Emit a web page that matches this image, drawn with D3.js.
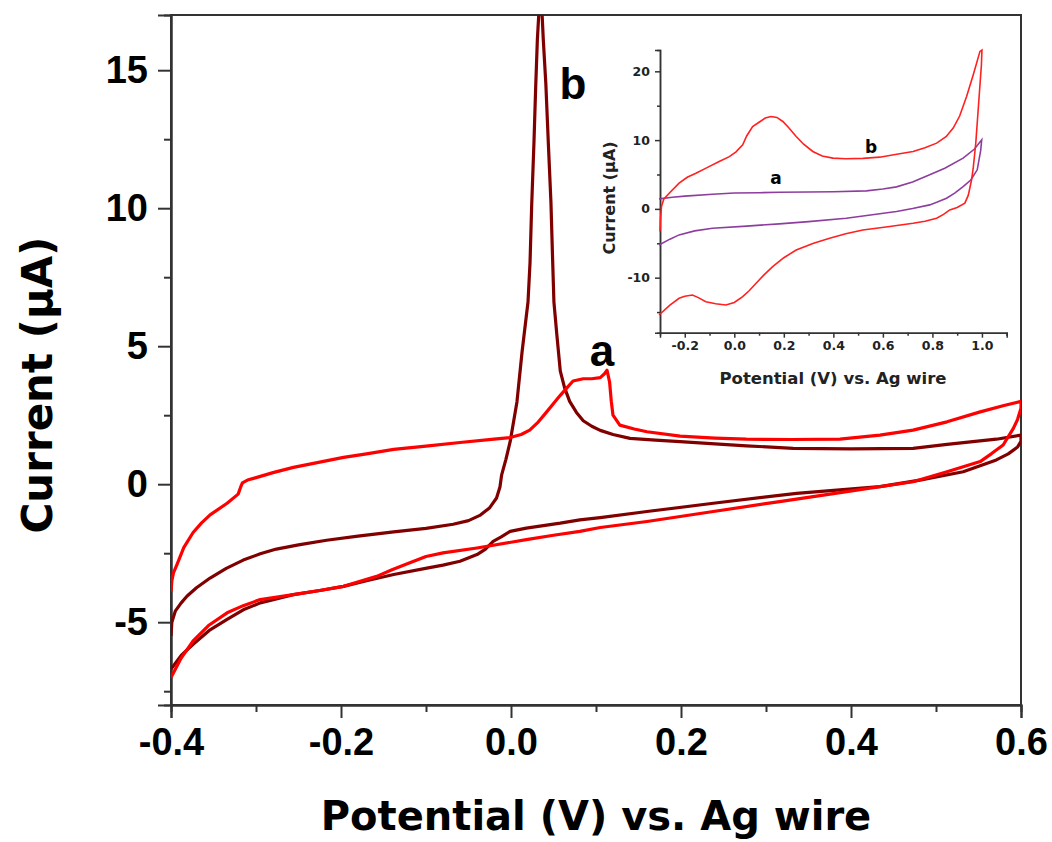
<!DOCTYPE html>
<html>
<head>
<meta charset="utf-8">
<script src="https://cdn.jsdelivr.net/npm/d3@7"></script>
<style>
  html, body { margin: 0; padding: 0; background: #fff; }
  svg { display: block; }
</style>
</head>
<body>
<svg id="chart" width="1052" height="842"></svg>
<script>
// ---------------- DATA ----------------
// Main chart: potential (V) vs current (µA)
const mainXTicks = [-0.4, -0.2, 0.0, 0.2, 0.4, 0.6];
const mainYTicks = [-5, 0, 5, 10, 15];
const mainXLabel = "Potential (V) vs. Ag wire";
const mainYLabel = "Current (\u03bcA)";

// curve b (dark red) – forward then reverse scan
const curveB = [
  [-0.400,-5.5],[-0.399,-5.0],[-0.395,-4.6],[-0.388,-4.3],[-0.381,-4.05],[-0.370,-3.75],[-0.354,-3.40],
  [-0.335,-3.05],[-0.315,-2.75],[-0.295,-2.52],[-0.276,-2.35],[-0.250,-2.20],[-0.217,-2.03],[-0.180,-1.88],
  [-0.138,-1.73],[-0.100,-1.60],[-0.068,-1.45],[-0.050,-1.32],[-0.036,-1.12],[-0.025,-0.85],[-0.017,-0.50],
  [-0.013,-0.10],[-0.011,0.34],[-0.006,0.90],[-0.001,1.54],[0.007,2.98],[0.013,4.79],[0.020,6.60],
  [0.0224,8.04],[0.0243,10.08],[0.027,12.37],[0.029,14.35],[0.031,16.10],[0.033,17.20],[0.036,17.40],
  [0.038,16.10],[0.041,14.50],[0.044,12.30],[0.047,10.20],[0.049,8.10],[0.0505,6.60],[0.054,5.39],
  [0.058,4.10],[0.063,3.50],[0.069,3.00],[0.077,2.60],[0.085,2.30],[0.095,2.10],[0.105,1.95],[0.120,1.80],
  [0.140,1.66],[0.170,1.60],[0.199,1.54],[0.240,1.46],[0.277,1.39],[0.332,1.30],[0.400,1.28],[0.473,1.30],
  [0.513,1.44],[0.571,1.63],[0.600,1.78],
  [0.600,1.55],[0.596,1.35],[0.585,1.10],[0.571,0.88],[0.532,0.45],[0.481,0.15],[0.434,-0.09],[0.336,-0.33],
  [0.238,-0.69],[0.160,-0.99],[0.105,-1.21],[0.081,-1.29],[0.058,-1.41],[0.018,-1.59],[-0.001,-1.71],
  [-0.011,-1.90],[-0.021,-2.07],[-0.030,-2.35],[-0.040,-2.55],[-0.060,-2.79],[-0.080,-2.93],[-0.099,-3.04],
  [-0.138,-3.27],[-0.170,-3.50],[-0.197,-3.70],[-0.225,-3.85],[-0.256,-4.00],[-0.295,-4.30],[-0.315,-4.55],
  [-0.334,-4.90],[-0.355,-5.30],[-0.374,-5.80],[-0.388,-6.20],[-0.397,-6.58],[-0.400,-6.70]
];

// curve a (bright red) – forward then reverse scan
const curveA = [
  [-0.400,-3.9],[-0.399,-3.5],[-0.397,-3.2],[-0.393,-2.91],[-0.385,-2.30],[-0.374,-1.75],[-0.364,-1.40],
  [-0.354,-1.11],[-0.334,-0.69],[-0.321,-0.36],[-0.318,-0.10],[-0.316,0.05],[-0.310,0.15],[-0.303,0.21],
  [-0.280,0.42],[-0.256,0.61],[-0.225,0.80],[-0.197,0.97],[-0.170,1.10],[-0.138,1.26],[-0.100,1.38],
  [-0.060,1.51],[-0.020,1.63],[-0.001,1.69],[0.012,1.80],[0.022,1.96],[0.032,2.25],[0.042,2.62],[0.050,2.92],
  [0.058,3.22],[0.066,3.50],[0.073,3.74],[0.085,3.82],[0.095,3.82],[0.105,3.86],[0.110,4.00],[0.113,4.13],
  [0.116,3.70],[0.118,3.00],[0.120,2.50],[0.128,2.14],[0.145,2.00],[0.160,1.90],[0.199,1.74],[0.240,1.67],
  [0.277,1.63],[0.330,1.62],[0.387,1.63],[0.434,1.78],[0.473,1.96],[0.513,2.26],[0.552,2.62],[0.580,2.85],
  [0.600,3.00],
  [0.600,2.75],[0.596,2.35],[0.591,2.02],[0.579,1.42],[0.565,1.10],[0.552,0.82],[0.513,0.45],[0.473,0.09],
  [0.395,-0.27],[0.316,-0.63],[0.238,-0.99],[0.160,-1.35],[0.105,-1.57],[0.081,-1.71],[0.050,-1.85],
  [0.018,-2.01],[-0.040,-2.31],[-0.080,-2.49],[-0.100,-2.62],[-0.119,-2.85],[-0.140,-3.10],[-0.158,-3.34],
  [-0.197,-3.70],[-0.225,-3.85],[-0.256,-4.00],[-0.295,-4.18],[-0.315,-4.40],[-0.334,-4.66],[-0.355,-5.10],
  [-0.374,-5.68],[-0.388,-6.30],[-0.400,-7.00]
];

// Inset chart
const insetXTicks = [-0.2, 0.0, 0.2, 0.4, 0.6, 0.8, 1.0];
const insetYTicks = [-10, 0, 10, 20];
const insetXLabel = "Potential (V) vs. Ag wire";
const insetYLabel = "Current (\u03bcA)";

// inset curve b (red)
const insetB = [
  [-0.300,-3.3],[-0.298,-1.5],[-0.294,0.34],[-0.285,1.4],[-0.263,2.28],[-0.223,3.74],[-0.190,4.6],
  [-0.155,5.19],[-0.110,6.0],[-0.061,6.89],[-0.020,7.6],[0.007,8.3],[0.034,9.32],[0.050,10.6],[0.074,11.98],
  [0.100,12.6],[0.125,13.2],[0.148,13.44],[0.172,13.3],[0.196,12.71],[0.220,11.8],[0.250,10.53],[0.280,9.4],
  [0.317,8.35],[0.355,7.7],[0.398,7.38],[0.450,7.3],[0.520,7.35],[0.587,7.52],[0.650,7.9],[0.722,8.35],
  [0.770,8.9],[0.817,9.56],[0.855,10.5],[0.884,11.74],[0.910,13.5],[0.938,16.35],[0.965,19.5],[0.992,22.9],
  [1.000,23.1],
  [0.998,21.0],[0.990,17.0],[0.982,13.0],[0.975,9.5],[0.965,6.0],[0.958,4.2],[0.945,2.0],[0.931,0.83],
  [0.900,0.2],[0.870,-0.15],[0.845,-0.8],[0.817,-1.36],[0.770,-1.8],[0.722,-2.09],[0.620,-2.6],[0.519,-3.06],
  [0.450,-3.6],[0.385,-4.27],[0.320,-5.0],[0.250,-5.97],[0.200,-7.1],[0.155,-8.4],[0.120,-9.6],[0.088,-10.8],
  [0.060,-11.9],[0.034,-12.76],[0.000,-13.6],[-0.034,-13.97],[-0.075,-13.8],[-0.115,-13.49],[-0.145,-12.9],
  [-0.169,-12.52],[-0.200,-12.7],[-0.223,-13.0],[-0.260,-14.0],[-0.304,-15.43]
];

// inset curve a (purple)
const insetA = [
  [-0.304,1.45],[-0.250,1.7],[-0.200,1.85],[-0.088,2.13],[0.000,2.3],[0.100,2.35],[0.182,2.43],[0.300,2.45],
  [0.400,2.5],[0.533,2.62],[0.600,2.9],[0.655,3.2],[0.720,3.9],[0.789,4.95],[0.850,5.9],[0.924,7.38],
  [0.970,8.7],[0.999,10.04],
  [0.995,8.5],[0.981,5.68],[0.955,4.2],[0.924,3.25],[0.890,2.3],[0.857,1.55],[0.820,1.0],[0.789,0.58],
  [0.720,0.05],[0.655,-0.39],[0.550,-0.9],[0.452,-1.36],[0.300,-1.85],[0.182,-2.18],[0.050,-2.5],
  [-0.088,-2.81],[-0.160,-3.2],[-0.223,-3.78],[-0.260,-4.4],[-0.304,-5.24]
];

// ---------------- DRAW ----------------
const svg = d3.select("#chart");
const fmt1 = v => d3.format(".1f")(v).replace("\u2212", "-");
const fmt0 = v => d3.format("d")(v).replace("\u2212", "-");

// main scales
const mx = d3.scaleLinear().domain([-0.4, 0.6]).range([171, 1021]);
const my = d3.scaleLinear().domain([-8, 17]).range([705, 15]);

const axisColor = "#333";

// frame
svg.append("rect").attr("x", mx(-0.4)).attr("y", my(17))
  .attr("width", mx(0.6) - mx(-0.4)).attr("height", my(-8) - my(17))
  .attr("fill", "none").attr("stroke", axisColor).attr("stroke-width", 2);

// minor ticks main
const gxMinor = svg.append("g").attr("transform", `translate(0,${my(-8)})`)
  .call(d3.axisBottom(mx).tickValues([-0.3, -0.1, 0.1, 0.3, 0.5]).tickSize(7).tickFormat(""));
const gyMinor = svg.append("g").attr("transform", `translate(${mx(-0.4)},0)`)
  .call(d3.axisLeft(my).tickValues([-7.5, -2.5, 2.5, 7.5, 12.5]).tickSize(7).tickFormat(""));

const gx = svg.append("g").attr("transform", `translate(0,${my(-8)})`)
  .call(d3.axisBottom(mx).tickValues(mainXTicks).tickSize(13).tickPadding(10).tickFormat(fmt1));
const gy = svg.append("g").attr("transform", `translate(${mx(-0.4)},0)`)
  .call(d3.axisLeft(my).tickValues(mainYTicks).tickSize(13).tickPadding(10).tickFormat(fmt0));

[gxMinor, gyMinor, gx, gy].forEach(g => {
  g.select(".domain").attr("stroke", axisColor).attr("stroke-width", 2);
  g.selectAll(".tick line").attr("stroke", axisColor).attr("stroke-width", 2);
});
[gx, gy].forEach(g => {
  g.selectAll(".tick text").attr("fill", "#000")
    .style("font-family", "'Liberation Sans', Arial, sans-serif")
    .style("font-weight", "bold").style("font-size", "38px");
});

// main curves
const mline = d3.line().x(d => mx(d[0])).y(d => my(d[1]));
svg.append("defs").append("clipPath").attr("id", "mainClip")
  .append("rect").attr("x", mx(-0.4)).attr("y", my(17))
  .attr("width", mx(0.6) - mx(-0.4)).attr("height", my(-8) - my(17));
const plotG = svg.append("g").attr("clip-path", "url(#mainClip)");
plotG.append("path").datum(curveB).attr("d", mline)
  .attr("fill", "none").attr("stroke", "#800000").attr("stroke-width", 3.2).attr("stroke-linejoin", "round");
plotG.append("path").datum(curveA).attr("d", mline)
  .attr("fill", "none").attr("stroke", "#ff0000").attr("stroke-width", 3.2).attr("stroke-linejoin", "round");

// main labels
svg.append("text").attr("x", 573).attr("y", 99).attr("text-anchor", "middle")
  .style("font-family", "'Liberation Sans', Arial, sans-serif").style("font-weight", "bold")
  .style("font-size", "44px").text("b");
svg.append("text").attr("x", 602).attr("y", 366).attr("text-anchor", "middle")
  .style("font-family", "'Liberation Sans', Arial, sans-serif").style("font-weight", "bold")
  .style("font-size", "44px").text("a");

// axis titles
svg.append("text").attr("x", 596).attr("y", 830).attr("text-anchor", "middle")
  .style("font-family", "'DejaVu Sans', Verdana, sans-serif").style("font-weight", "bold")
  .style("font-size", "40px").text(mainXLabel);
svg.append("text").attr("transform", "translate(52,385) rotate(-90)").attr("text-anchor", "middle")
  .style("font-family", "'DejaVu Sans', Verdana, sans-serif").style("font-weight", "bold")
  .style("font-size", "42px").text(mainYLabel);

// ---------------- INSET ----------------
const ix = d3.scaleLinear().domain([-0.3, 1.1]).range([660, 1006.7]);
const iy = d3.scaleLinear().domain([-18, 23.1]).range([332.7, 50]);
const insetFont = "'DejaVu Sans', Verdana, sans-serif";

const ixMinor = svg.append("g").attr("transform", `translate(0,${iy(-18)})`)
  .call(d3.axisBottom(ix).tickValues([-0.1, 0.1, 0.3, 0.5, 0.7, 0.9, 1.1]).tickSize(3).tickFormat(""));
const iyMinor = svg.append("g").attr("transform", `translate(${ix(-0.3)},0)`)
  .call(d3.axisLeft(iy).tickValues([-15, -5, 5, 15]).tickSize(3).tickFormat(""));
const igx = svg.append("g").attr("transform", `translate(0,${iy(-18)})`)
  .call(d3.axisBottom(ix).tickValues(insetXTicks).tickSize(5).tickPadding(3).tickFormat(fmt1));
const igy = svg.append("g").attr("transform", `translate(${ix(-0.3)},0)`)
  .call(d3.axisLeft(iy).tickValues(insetYTicks).tickSize(5).tickPadding(5).tickFormat(fmt0));
[ixMinor, iyMinor, igx, igy].forEach(g => {
  g.select(".domain").attr("stroke", axisColor).attr("stroke-width", 1.5);
  g.selectAll(".tick line").attr("stroke", axisColor).attr("stroke-width", 1.5);
});
[igx, igy].forEach(g => {
  g.selectAll(".tick text").attr("fill", "#222")
    .style("font-family", insetFont).style("font-weight", "bold").style("font-size", "12.5px");
});

const iline = d3.line().x(d => ix(d[0])).y(d => iy(d[1]));
svg.append("path").datum(insetA).attr("d", iline)
  .attr("fill", "none").attr("stroke", "#8e3d9e").attr("stroke-width", 1.6);
svg.append("path").datum(insetB).attr("d", iline)
  .attr("fill", "none").attr("stroke", "#ff2020").attr("stroke-width", 1.6);

svg.append("text").attr("x", 871).attr("y", 153).attr("text-anchor", "middle")
  .style("font-family", insetFont).style("font-weight", "bold").style("font-size", "17px").text("b");
svg.append("text").attr("x", 776).attr("y", 184).attr("text-anchor", "middle")
  .style("font-family", insetFont).style("font-weight", "bold").style("font-size", "17px").text("a");

svg.append("text").attr("x", 833).attr("y", 384).attr("text-anchor", "middle")
  .attr("fill", "#222")
  .style("font-family", insetFont).style("font-weight", "bold").style("font-size", "16.5px").text(insetXLabel);
svg.append("text").attr("transform", "translate(615,198) rotate(-90)").attr("text-anchor", "middle")
  .attr("fill", "#222")
  .style("font-family", insetFont).style("font-weight", "bold").style("font-size", "16px").text(insetYLabel);
</script>
</body>
</html>
